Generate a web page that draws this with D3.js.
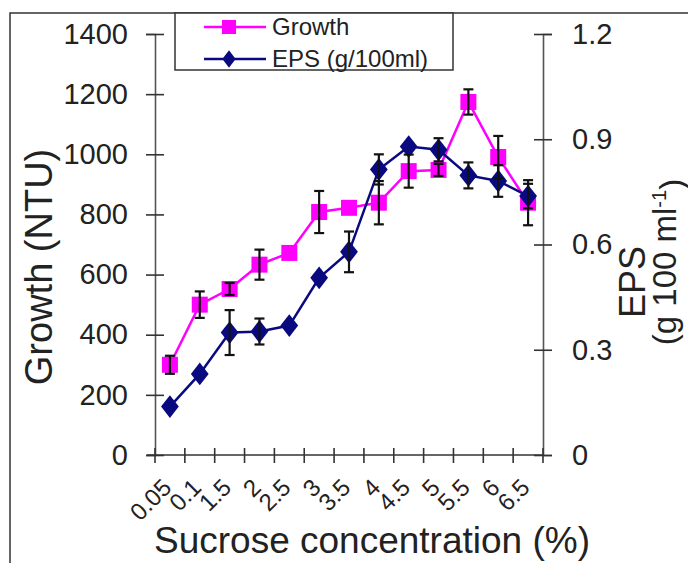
<html>
<head>
<script src="https://cdn.jsdelivr.net/npm/d3@7"></script>
<style>
  body { margin: 0; background: #fff; }
  text { font-family: "Liberation Sans", Arial, sans-serif; fill: #222; }
</style>
</head>
<body>
<svg width="688" height="563"></svg>
<script>
// sucrose concentration (%) categories
const categories = ["0.05", "0.1", "1.5", "2", "2.5", "3", "3.5", "4", "4.5", "5", "5.5", "6", "6.5"];
// growth (NTU) and its error
const growth    = [300, 500, 552, 633, 672, 808, 822, 839, 944, 948, 1174, 991, 839];
const growthErr = [30, 44, 20, 50, 0, 70, 0, 72, 55, 20, 42, 70, 75];
// EPS (g/100ml) and its error
const eps    = [0.138, 0.231, 0.349, 0.352, 0.369, 0.505, 0.579, 0.814, 0.879, 0.870, 0.797, 0.781, 0.738];
const epsErr = [0, 0, 0.064, 0.037, 0, 0, 0.058, 0.043, 0, 0.033, 0.037, 0.045, 0.035];
const growthTicks = [0, 200, 400, 600, 800, 1000, 1200, 1400];
const epsTicks = [0, 0.3, 0.6, 0.9, 1.2];

const svg = d3.select("svg");
const axisColor = "#555";

const x = d3.scaleBand().domain(categories).range([155, 543]);
const yL = d3.scaleLinear().domain([0, 1400]).range([455, 34]);
const yR = d3.scaleLinear().domain([0, 1.2]).range([455, 34]);

// outer frame (top + left visible)
svg.append("path")
  .attr("d", "M10,563 V13 H688")
  .attr("fill", "none").attr("stroke", "#333").attr("stroke-width", 1.5);

// left axis
const gL = svg.append("g").attr("transform", "translate(155,0)")
  .call(d3.axisLeft(yL).tickValues(growthTicks).tickFormat(d3.format("d")).tickSizeOuter(0).tickSize(9).tickPadding(18));
gL.selectAll(".tick line").attr("x2", -9).attr("x1", 9);
// right axis
const gR = svg.append("g").attr("transform", "translate(543,0)")
  .call(d3.axisRight(yR).tickValues(epsTicks).tickFormat(d => d === 0 ? "0" : d3.format(".1f")(d)).tickSizeOuter(0).tickSize(9).tickPadding(20));
gR.selectAll(".tick line").attr("x1", -9).attr("x2", 9);

[gL, gR].forEach(g => {
  g.select(".domain").attr("stroke", axisColor).attr("stroke-width", 1.6);
  g.selectAll(".tick line").attr("stroke", "#333").attr("stroke-width", 1.6);
  g.selectAll(".tick text").style("font-size", "29px").attr("fill", "#222");
});

// bottom axis: ticks at category boundaries
const gB = svg.append("g");
gB.append("line")
  .attr("x1", x.range()[0] - 8).attr("x2", x.range()[1])
  .attr("y1", yL(0)).attr("y2", yL(0))
  .attr("stroke", "#333").attr("stroke-width", 1.6);
gB.selectAll(".xt").data(d3.range(categories.length + 1)).join("line")
  .attr("x1", i => x.range()[0] + i * x.step()).attr("x2", i => x.range()[0] + i * x.step())
  .attr("y1", yL(0) - 7).attr("y2", yL(0) + 8)
  .attr("stroke", "#333").attr("stroke-width", 1.6);
gB.selectAll(".xl").data(categories).join("text")
  .attr("transform", d => `translate(${x(d) + x.bandwidth() / 2 + 3},${yL(0) + 34}) rotate(-45)`)
  .attr("text-anchor", "end")
  .style("font-size", "24px")
  .text(d => d);

// axis titles
svg.append("text")
  .attr("x", 372).attr("y", 553).attr("text-anchor", "middle")
  .style("font-size", "37px").text("Sucrose concentration (%)");
svg.append("text")
  .attr("transform", "translate(52,267) rotate(-90)").attr("text-anchor", "middle")
  .style("font-size", "38px").text("Growth (NTU)");
svg.append("text")
  .attr("transform", "translate(645,282) rotate(-90)").attr("text-anchor", "middle")
  .style("font-size", "36px").text("EPS");
const sub = svg.append("text")
  .attr("transform", "translate(676,262) rotate(-90)").attr("text-anchor", "middle")
  .style("font-size", "33px");
sub.append("tspan").text("(g 100 ml");
sub.append("tspan").attr("dy", "-0.5em").style("font-size", "20px").text("-1");
sub.append("tspan").attr("dy", "0.5em").text(")");

const cx = (d, i) => x(categories[i]) + x.bandwidth() / 2;
const magenta = "#ff00ff", navy = "#0a0a80";

// growth series
svg.append("path").datum(growth)
  .attr("d", d3.line().x(cx).y(d => yL(d)))
  .attr("fill", "none").attr("stroke", magenta).attr("stroke-width", 2.5);
svg.selectAll(".gm").data(growth).join("rect")
  .attr("x", (d, i) => cx(d, i) - 8).attr("y", d => yL(d) - 8)
  .attr("width", 16).attr("height", 16).attr("fill", magenta);

// EPS series
svg.append("path").datum(eps)
  .attr("d", d3.line().x(cx).y(d => yR(d)))
  .attr("fill", "none").attr("stroke", navy).attr("stroke-width", 2.5);
const diamond = d3.symbol().type(d3.symbolDiamond).size(150);
svg.selectAll(".em").data(eps).join("path")
  .attr("transform", (d, i) => `translate(${cx(d, i)},${yR(d)}) scale(1.35,1)`)
  .attr("d", diamond).attr("fill", navy);

// error bars
function errBars(vals, errs, y) {
  const g = svg.append("g").attr("stroke", "#111").attr("stroke-width", 2.2);
  vals.forEach((v, i) => {
    if (!errs[i]) return;
    const xc = cx(v, i), y1 = y(v + errs[i]), y2 = y(v - errs[i]);
    g.append("line").attr("x1", xc).attr("x2", xc).attr("y1", y1).attr("y2", y2);
    g.append("line").attr("x1", xc - 5).attr("x2", xc + 5).attr("y1", y1).attr("y2", y1);
    g.append("line").attr("x1", xc - 5).attr("x2", xc + 5).attr("y1", y2).attr("y2", y2);
  });
}
errBars(growth, growthErr, yL);
errBars(eps, epsErr, yR);

// legend
const lg = svg.append("g");
lg.append("rect").attr("x", 175).attr("y", 13).attr("width", 278).attr("height", 57)
  .attr("fill", "#fff").attr("stroke", "#333").attr("stroke-width", 1.5);
lg.append("line").attr("x1", 204).attr("x2", 266).attr("y1", 27).attr("y2", 27)
  .attr("stroke", magenta).attr("stroke-width", 2.5);
lg.append("rect").attr("x", 229 - 7).attr("y", 27 - 7).attr("width", 14).attr("height", 14).attr("fill", magenta);
lg.append("text").attr("x", 272).attr("y", 35).style("font-size", "24px").text("Growth");
lg.append("line").attr("x1", 204).attr("x2", 266).attr("y1", 59).attr("y2", 59)
  .attr("stroke", navy).attr("stroke-width", 2.5);
lg.append("path").attr("transform", "translate(229,59) scale(1.3,1)")
  .attr("d", d3.symbol().type(d3.symbolDiamond).size(90)).attr("fill", navy);
lg.append("text").attr("x", 272).attr("y", 67).style("font-size", "24px").text("EPS (g/100ml)");
</script>
</body>
</html>
